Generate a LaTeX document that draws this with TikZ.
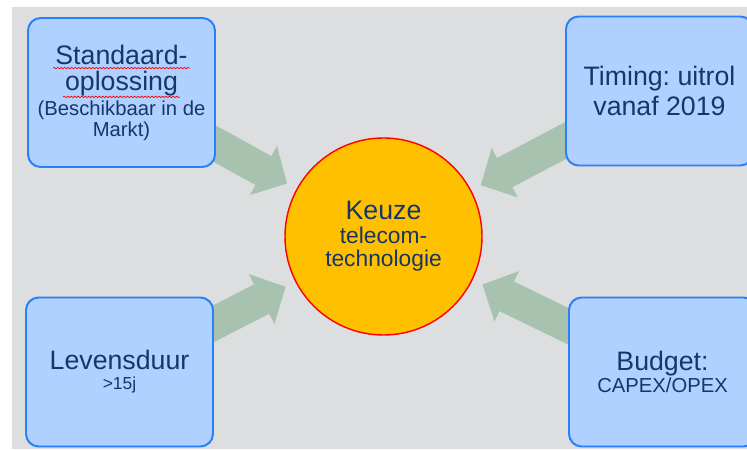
\documentclass[tikz,border=0pt]{standalone}
\usepackage{fontspec}
\setmainfont{Liberation Sans}
\usepackage{xcolor}
\usepackage{tikz}
\usetikzlibrary{arrows.meta,backgrounds,decorations.pathmorphing,positioning}
\definecolor{bggray}{RGB}{221,222,224}
\definecolor{boxfill}{RGB}{176,208,255}
\definecolor{boxline}{RGB}{41,128,250}
\definecolor{flowgreen}{RGB}{168,194,176}
\definecolor{keuzefill}{RGB}{255,192,0}
\definecolor{navy}{RGB}{22,54,106}
\newcommand{\bigtxt}{\fontsize{19}{12}\selectfont}
\newcommand{\midtxt}{\fontsize{16.2}{12}\selectfont}
\newcommand{\smalltxt}{\fontsize{14.4}{12}\selectfont}
\newcommand{\tinytxt}{\fontsize{12.4}{12}\selectfont}

\begin{document}
\lineskiplimit=-100pt
\frenchspacing
\begin{tikzpicture}[
        box/.style={draw=boxline,line width=1.4pt,fill=boxfill,rounded corners=9pt,minimum width=4.675cm,minimum height=3.725cm,inner sep=0pt,align=center,text=navy},
        flow/.style={draw=flowgreen,line width=0.825cm,-{Triangle[width=1.4cm,length=0.675cm,line width=0pt]},shorten >=0.27cm},
        spellmark/.style={draw=red,line width=0.5pt,decorate,decoration={snake,amplitude=0.5pt,segment length=2.5pt}}
    ]
        \useasboundingbox (0,0) rectangle (18.675,11.225);
        \node[box] (std) at (3.0375,8.9125) {\bigtxt Standaard-\\[6.5pt]\bigtxt oplossing\\[6.3pt]\smalltxt (Beschikbaar in de\\[2.4pt]\smalltxt Markt)};
        \node[box] (timing) at (16.4875,8.95) {\bigtxt Timing: uitrol\\[8.9pt]\bigtxt vanaf 2019};
        \node[box] (leven) at (2.9875,1.925) {\bigtxt Levensduur\\[2.2pt]\tinytxt >15j};
        \node[box] (budget) at (16.5625,1.925) {\bigtxt Budget:\\[3.9pt]\smalltxt CAPEX/OPEX};
        \node[circle,draw=red,line width=1pt,fill=keuzefill,minimum size=4.925cm,inner sep=0pt,align=center,text=navy] (keuze) at (9.5875,5.3125) {\bigtxt Keuze\\[4.6pt]\midtxt telecom-\\[4.6pt]\midtxt technologie};
        \draw[spellmark] ([shift={(-1.71,0.61)}]std.center) -- ++(3.42,0);
        \draw[spellmark] ([shift={(-1.46,-0.11)}]std.center) -- ++(2.92,0);
        \begin{scope}[on background layer]
            \fill[bggray] (0.3,0) rectangle (18.675,11.05);
            \foreach \src in {std,timing,leven,budget}
                \draw[flow] (\src.center) -- (keuze);
        \end{scope}
    \end{tikzpicture}
\end{document}
